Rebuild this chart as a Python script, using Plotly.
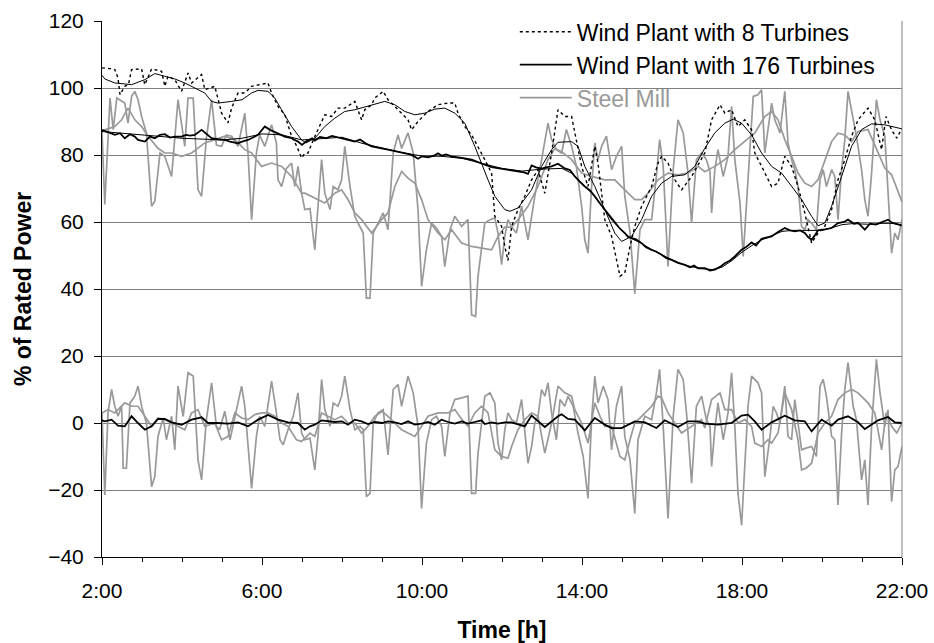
import plotly.graph_objects as go

# ---------------- data (hours of day, % of rated power) ----------------
# Wind plant with 8 turbines - measured (dotted)
t_w8 = [2.0, 2.07, 2.2, 2.32, 2.4, 2.45, 2.57, 2.66, 2.74, 2.99, 3.07, 3.24, 3.49, 3.57, 3.65, 3.82, 3.99, 4.15, 4.24, 4.49,
        4.57, 4.82, 4.9, 4.99, 5.15, 5.24, 5.4, 5.57, 5.74, 5.99, 6.15, 6.24, 6.4, 6.57, 6.74, 6.87, 6.99, 7.07, 7.15, 7.3,
        7.49, 7.57, 7.74, 7.9, 8.07, 8.32, 8.49, 8.57, 8.74, 8.82, 9.03, 9.15, 9.32, 9.49, 9.65, 9.74, 9.9, 10.15, 10.4, 10.65,
        10.82, 10.9, 11.07, 11.24, 11.4, 11.57, 11.74, 11.82, 11.99, 12.07, 12.15, 12.24, 12.4, 12.57, 12.74, 12.9, 13.07, 13.24, 13.4, 13.57,
        13.74, 13.82, 13.99, 14.15, 14.32, 14.4, 14.57, 14.74, 14.95, 15.07, 15.2, 15.32, 15.49, 15.74, 15.9, 15.99, 16.15, 16.32, 16.49, 16.74,
        16.99, 17.07, 17.24, 17.45, 17.57, 17.74, 17.9, 18.07, 18.24, 18.32, 18.49, 18.65, 18.74, 18.9, 19.07, 19.24, 19.4, 19.57, 19.74, 19.9,
        20.07, 20.24, 20.4, 20.57, 20.74, 20.9, 21.15, 21.32, 21.49, 21.6, 21.74, 21.87, 22.0]
v_w8 = [106, 106, 105.8, 105.5, 103, 98, 100.5, 101, 105.5, 105.7, 101, 105.7, 105, 100.5, 103.5, 102.5, 99, 104.5, 101.5, 104,
        99.5, 100.5, 97, 92.5, 89.6, 94, 98.5, 98.5, 100.5, 101, 101.5, 98.5, 94.5, 92, 85.6, 82.6, 79.1, 80.5, 80.6, 85,
        90, 92, 91.5, 94, 94, 96, 90.5, 93.5, 95, 97, 99, 96.5, 94.5, 92.5, 90.5, 87.5, 90, 93, 95, 95.5,
        95.5, 92.5, 88.5, 86, 82.6, 78.6, 74.6, 61.7, 58.7, 52.7, 48.5, 58.7, 63.7, 67.7, 72.6, 75.6, 68.6, 80.6, 93.5, 91.5,
        91.5, 86.6, 76.6, 70.6, 82.6, 77.6, 60.7, 55.7, 43.8, 44.8, 52.7, 58.7, 64.7, 70.6, 77.6, 79.6, 77.6, 72.6, 69.6, 73.6,
        78.6, 80.6, 90.5, 95, 92.5, 93.5, 88.5, 90.5, 87.5, 80.6, 76.6, 72.6, 70.6, 71.6, 79.6, 76.6, 70.6, 62.7, 53.7, 56.7,
        58.7, 63.7, 72.6, 78.6, 85.6, 90.5, 94, 90.5, 81.6, 91.5, 87.5, 85, 88]

# Wind plant with 8 turbines - smoothed
t_w8s = [2.0, 2.07, 2.32, 2.74, 3.07, 3.32, 3.57, 3.82, 4.07, 4.32, 4.57, 4.74, 4.9, 5.24, 5.5, 5.74, 5.9, 6.15, 6.32, 6.49,
         6.74, 6.99, 7.1, 7.32, 7.57, 7.82, 8.07, 8.32, 8.57, 8.82, 9.07, 9.32, 9.57, 9.82, 10.07, 10.32, 10.57, 10.82, 11.07, 11.32,
         11.48, 11.65, 11.82, 12.07, 12.2, 12.4, 12.74, 12.99, 13.24, 13.4, 13.74, 13.9, 14.07, 14.32, 14.57, 14.82, 14.99, 15.24, 15.49, 15.74,
         15.99, 16.24, 16.57, 16.82, 17.07, 17.32, 17.57, 17.78, 17.99, 18.24, 18.49, 18.74, 18.99, 19.24, 19.49, 19.74, 19.9, 20.07, 20.24, 20.49,
         20.74, 20.99, 21.24, 21.57, 21.82, 22.0]
v_w8s = [103.8, 102.7, 101.5, 101, 102.5, 104.3, 103.5, 102.7, 101.5, 100, 98.5, 96, 95.5, 96, 96.5, 98.5, 99.3, 99, 97, 93.5,
         88.5, 84.5, 83.6, 85, 88.5, 91, 93, 93.5, 94.3, 95.3, 96, 95, 93, 92, 92.5, 93.7, 94, 92.5, 89.5, 82.6,
         77.6, 72.6, 67.7, 63.7, 63.2, 64.2, 69.6, 76.6, 81.6, 83.8, 84, 82.6, 76.6, 70.6, 63.7, 56.7, 54.2, 55.7, 60.7, 67.7,
         71.6, 73.6, 74.1, 76.6, 82, 86.6, 89.5, 90.7, 89.5, 86, 80.6, 76.6, 74.6, 70.6, 66.7, 61.7, 58.9, 59.7, 64.7, 73.6,
         82.6, 87.6, 89.3, 89, 88.4, 87.8]

# Wind plant with 176 turbines - measured
t_w176 = [2.0, 2.1, 2.2, 2.32, 2.45, 2.57, 2.7, 2.82, 2.9, 3.07, 3.2, 3.32, 3.45, 3.57, 3.7, 3.82, 3.99, 4.1, 4.2, 4.32,
          4.49, 4.6, 4.74, 4.9, 5.07, 5.2, 5.4, 5.5, 5.65, 5.9, 6.07, 6.2, 6.4, 6.57, 6.74, 6.9, 7.0, 7.1, 7.25, 7.32,
          7.45, 7.6, 7.75, 7.9, 8.07, 8.2, 8.32, 8.45, 8.6, 8.74, 8.9, 9.05, 9.15, 9.3, 9.45, 9.57, 9.7, 9.82, 9.9, 10.0,
          10.15, 10.3, 10.4, 10.5, 10.6, 10.74, 10.9, 11.07, 11.24, 11.4, 11.57, 11.74, 11.9, 12.07, 12.2, 12.4, 12.55, 12.65, 12.74, 12.85,
          12.99, 13.1, 13.24, 13.4, 13.57, 13.7, 13.82, 13.95, 14.07, 14.2, 14.32, 14.45, 14.57, 14.7, 14.82, 14.95, 15.07, 15.15, 15.24, 15.35,
          15.49, 15.6, 15.74, 15.85, 15.99, 16.1, 16.24, 16.4, 16.57, 16.7, 16.8, 16.9, 17.07, 17.2, 17.32, 17.45, 17.57, 17.7, 17.82, 17.99,
          18.1, 18.24, 18.35, 18.49, 18.6, 18.74, 18.9, 19.07, 19.2, 19.32, 19.45, 19.57, 19.65, 19.74, 19.82, 19.9, 20.07, 20.24, 20.4, 20.55,
          20.65, 20.8, 20.9, 21.07, 21.2, 21.35, 21.5, 21.65, 21.75, 21.9, 22.0]
v_w176 = [87.5, 87, 86.5, 86, 86.5, 85, 86.2, 85.5, 84.5, 84, 85.5, 85, 86, 86.2, 85.2, 85.5, 85.5, 86, 85.8, 86,
          87.5, 86.3, 85, 84.7, 84.5, 84, 83.5, 84, 84.5, 86, 88.5, 87.5, 86.5, 85.5, 85, 84, 83, 84, 85, 84.3,
          85.4, 85, 85.7, 85.3, 84.8, 84.3, 84, 84.6, 83.4, 82.6, 82.3, 81.8, 81.6, 81.2, 80.8, 80.4, 80.2, 79.5, 78.9, 79.6,
          79.3, 79.8, 80.5, 79.8, 80.2, 79.6, 79.2, 79, 78.6, 77.8, 77.1, 76.4, 76.1, 75.6, 75.4, 75.2, 74.8, 74.4, 76.9, 76.3,
          75.9, 76.3, 76.6, 77.4, 76, 75.5, 73.6, 72, 70.6, 69.4, 67.7, 65.5, 63.7, 61.5, 59.7, 58, 56.7, 55.5, 55.2, 54.8,
          53.7, 52.5, 51.7, 51.2, 50.2, 49.3, 48.7, 47.8, 47.2, 46.5, 47, 46.2, 46.2, 45.5, 45.8, 46.6, 47.7, 48.5, 49.7, 51.7,
          52.5, 53.9, 53, 55, 55.3, 55.7, 57, 58.2, 57.5, 57.2, 57.5, 56.7, 55.5, 54.7, 56, 57.5, 57.8, 58.2, 59.7, 60,
          60.7, 59.5, 59.8, 57.7, 59.5, 59.2, 60, 60.7, 59.8, 59.2, 58.9]

# Wind plant with 176 turbines - smoothed
t_w176s = [2.0, 3.0, 4.0, 5.0, 5.5, 6.0, 6.5, 7.0, 7.5, 8.0, 8.5, 9.0, 9.5, 10.0, 10.5, 11.0, 11.5, 12.0, 12.5, 13.0,
           13.5, 13.75, 14.0, 14.25, 14.5, 14.75, 15.0, 15.25, 15.5, 15.75, 16.0, 16.25, 16.5, 16.75, 17.0, 17.25, 17.5, 17.75, 18.0, 18.25,
           18.5, 18.75, 19.0, 19.25, 19.5, 19.75, 20.0, 20.25, 20.5, 20.75, 21.0, 21.25, 21.5, 21.75, 22.0]
v_w176s = [87, 86, 85, 84.5, 85, 86.3, 86, 84.5, 85, 85.3, 83.5, 82, 80.7, 79.7, 79.6, 79, 77.5, 76, 75.2, 75.8,
           76, 74.5, 71.5, 68.5, 64.7, 60.5, 57.3, 55, 53.5, 51.7, 50.2, 48.7, 47.5, 46.6, 46.1, 45.8, 46.5, 48.5, 51, 53,
           54.7, 56, 57.2, 57.5, 57.5, 57.3, 57.5, 58.3, 59.2, 59.5, 59.3, 59.3, 59.6, 59.6, 59.2]

# Steel mill - measured
t_sm = [2.0, 2.07, 2.2, 2.28, 2.37, 2.57, 2.65, 2.74, 2.82, 2.9, 2.99, 3.11, 3.24, 3.32, 3.45, 3.57, 3.74, 3.9, 4.07, 4.15,
        4.28, 4.4, 4.49, 4.61, 4.74, 4.86, 4.99, 5.11, 5.24, 5.4, 5.57, 5.65, 5.74, 5.86, 5.94, 6.07, 6.24, 6.36, 6.4, 6.49,
        6.61, 6.74, 6.82, 6.9, 6.99, 7.07, 7.2, 7.32, 7.4, 7.49, 7.57, 7.7, 7.78, 7.9, 7.99, 8.07, 8.2, 8.32, 8.4, 8.53,
        8.61, 8.7, 8.78, 8.9, 9.03, 9.15, 9.28, 9.4, 9.49, 9.65, 9.78, 9.9, 9.99, 10.11, 10.24, 10.36, 10.49, 10.57, 10.7, 10.82,
        10.99, 11.15, 11.24, 11.34, 11.4, 11.57, 11.7, 11.82, 11.9, 11.99, 12.07, 12.15, 12.24, 12.36, 12.49, 12.65, 12.82, 12.99, 13.15, 13.24,
        13.36, 13.49, 13.61, 13.74, 13.86, 13.99, 14.07, 14.15, 14.24, 14.32, 14.4, 14.49, 14.61, 14.74, 14.86, 14.99, 15.07, 15.2, 15.32, 15.45,
        15.57, 15.74, 15.86, 15.94, 16.03, 16.15, 16.28, 16.4, 16.53, 16.65, 16.74, 16.86, 16.99, 17.11, 17.2, 17.24, 17.32, 17.4, 17.53, 17.65,
        17.74, 17.82, 17.95, 18.03, 18.12, 18.2, 18.28, 18.4, 18.49, 18.57, 18.65, 18.74, 18.82, 18.95, 19.07, 19.15, 19.24, 19.32, 19.4, 19.49,
        19.57, 19.65, 19.74, 19.86, 19.95, 20.03, 20.11, 20.24, 20.32, 20.4, 20.49, 20.57, 20.65, 20.78, 20.86, 20.99, 21.07, 21.15, 21.24, 21.36,
        21.45, 21.57, 21.65, 21.74, 21.82, 21.9, 22.0]
v_sm = [87, 65.2, 97, 87.6, 97, 95.5, 89.5, 97.5, 99, 96.5, 91.5, 86.6, 64.7, 66.2, 80.6, 79.6, 73.6, 96.5, 82.6, 97,
        97, 69.6, 67.7, 85, 96.5, 83, 82.6, 86, 85.6, 82.6, 92.5, 80.6, 60.7, 80.6, 86, 82.6, 89, 83.6, 72.6, 70.6,
        76, 77.6, 70.6, 76.6, 68.6, 63.7, 64, 51.7, 64.7, 78.6, 68.6, 63.7, 70.6, 69.6, 72.6, 82.6, 70.6, 61.7, 59.7, 56.7,
        37.3, 37.3, 56.7, 59.7, 62.7, 57.7, 80.6, 86, 82, 86.6, 80.6, 63.7, 40.8, 51.7, 59.7, 58.2, 55.7, 46.7, 57.7, 61.7,
        58.7, 60.7, 32.3, 31.8, 43.8, 59.7, 60.7, 61.2, 56.7, 47.3, 55.7, 60.7, 58.5, 56.7, 64.7, 54.7, 67.7, 78.6, 89.5, 84.6,
        81.6, 80.6, 87.6, 82.6, 76.6, 64.7, 54.7, 50.7, 70.6, 83.6, 78.6, 82.6, 85.6, 75.6, 79.6, 82.6, 67.7, 57, 38.6, 57.7,
        60.7, 60.7, 73.6, 84.6, 76.6, 46.7, 75.6, 90.5, 86.6, 74.6, 59.7, 78.6, 80.6, 78.6, 75, 62.7, 75.6, 81.6, 73.6, 79.6,
        94.5, 78.6, 65.7, 49.7, 66.7, 82.6, 97.5, 98, 99.5, 80.6, 87.5, 95.5, 90.5, 86.6, 99, 83.6, 78.6, 75.6, 70.6, 58.7,
        57.7, 60.7, 59.7, 57.7, 72.6, 75.6, 70.6, 75.6, 73.6, 60.7, 75.6, 84.6, 99, 90.5, 85.6, 75.6, 66.7, 61.7, 74.6, 96.5,
        90.5, 85.6, 69.6, 50.7, 56.7, 54.7, 60.7]

# Steel mill - smoothed
t_sms = [2.0, 2.07, 2.32, 2.49, 2.65, 2.82, 2.99, 3.15, 3.4, 3.57, 3.74, 3.99, 4.24, 4.57, 4.82, 5.07, 5.32, 5.57, 5.74, 5.99,
         6.24, 6.49, 6.74, 6.99, 7.07, 7.32, 7.57, 7.82, 7.99, 8.15, 8.32, 8.49, 8.74, 8.99, 9.15, 9.32, 9.49, 9.65, 9.82, 9.99,
         10.15, 10.4, 10.57, 10.74, 10.99, 11.24, 11.49, 11.74, 11.9, 12.07, 12.24, 12.4, 12.65, 12.9, 13.15, 13.32, 13.49, 13.74, 13.99, 14.24,
         14.57, 14.82, 15.07, 15.32, 15.49, 15.65, 15.9, 16.15, 16.4, 16.65, 16.9, 17.07, 17.32, 17.57, 17.82, 18.07, 18.32, 18.57, 18.74, 18.9,
         19.07, 19.24, 19.4, 19.57, 19.74, 19.9, 20.07, 20.24, 20.4, 20.57, 20.74, 20.9, 21.15, 21.4, 21.57, 21.74, 21.9, 22.0]
v_sms = [87, 87.5, 88.5, 90.5, 94, 90.5, 88.5, 85.6, 82, 80.6, 80.6, 79.6, 80.6, 83.6, 84.6, 85.6, 84.6, 81.6, 80.6, 76.6,
         77.6, 76.6, 73.6, 68.6, 68.6, 67.2, 65.7, 68.6, 69.6, 66.7, 62.7, 60.7, 56.7, 60.7, 62.7, 70.6, 75.1, 73.1, 71.6, 66.7,
         60.7, 56.7, 54.7, 57.7, 53.7, 52.7, 52.2, 51.7, 55.7, 58.5, 58.5, 60.7, 64.7, 70.6, 78.6, 82, 81, 78.6, 74.6, 73.6,
         72.6, 72.6, 69.6, 66.7, 66.7, 68.6, 72.6, 74.6, 74.1, 74.6, 76.6, 75, 76.6, 78.6, 81.6, 84.1, 86.6, 91.5, 93, 90.5,
         84.6, 79.6, 74.6, 71.6, 70.6, 72.6, 78, 84, 86.5, 86, 84, 87, 87.6, 81, 76.1, 74.1, 69, 66]

# Fluctuations (measured minus smoothed)
t_fw176 = [2.0, 2.07, 2.24, 2.4, 2.57, 2.74, 2.9, 3.07, 3.24, 3.4, 3.57, 3.74, 3.99, 4.24, 4.49, 4.65, 4.9, 5.15, 5.4, 5.65,
           5.9, 6.15, 6.4, 6.65, 6.9, 7.07, 7.2, 7.32, 7.49, 7.65, 7.82, 8.0, 8.15, 8.32, 8.49, 8.65, 8.82, 9.0, 9.15, 9.32,
           9.49, 9.65, 9.82, 9.99, 10.15, 10.32, 10.49, 10.65, 10.82, 10.99, 11.15, 11.32, 11.49, 11.57, 11.74, 11.9, 12.07, 12.24, 12.57, 12.74,
           13.07, 13.4, 13.49, 13.65, 13.82, 14.07, 14.32, 14.57, 14.74, 14.99, 15.32, 15.57, 15.86, 16.07, 16.4, 16.65, 16.9, 17.07, 17.4, 17.74,
           17.99, 18.15, 18.32, 18.49, 18.74, 19.07, 19.32, 19.57, 19.74, 19.99, 20.24, 20.4, 20.65, 20.9, 21.07, 21.4, 21.65, 21.82, 22.0]
v_fw176 = [0.8, 0.5, 1, -0.8, -1, 2, 0, -2, -1, 1.2, 1.2, 0.2, -0.5, 1, 1.7, 0, 0, -0.2, 0.2, -1,
           1, 2.4, 1, 0.2, 0, -2, -1, -0.5, 0.8, 0.5, 0.3, 0.5, -0.5, 1, 0.5, -0.3, 0.3, 0, 0.5, 0.2,
           -0.3, 0.5, -0.5, -0.2, 0.3, -0.5, 1, 0.3, -0.2, 0.5, -0.2, 0.3, 0.8, -0.3, 0.2, -0.2, 0.2, 0.2, -1, 2.2,
           -1.2, 2, 2.6, 1.2, 1, -2.2, 1.5, -0.5, -1.5, -1.5, 0.5, 0.2, -1.5, 0.8, -1.2, 0.5, 0.5, -0.2, -0.5, 0,
           2.2, 2.5, 0.5, -2, 0.2, 2.2, 0.8, 0.5, -2.5, 1, -0.8, 1, 2, 0.2, -1.8, 0.8, 1.8, 0.2, 0]

t_fw8 = [2.0, 2.15, 2.32, 2.57, 2.74, 2.9, 3.07, 3.24, 3.4, 3.57, 3.74, 3.9, 4.07, 4.24, 4.4, 4.57, 4.82, 4.99, 5.15, 5.32,
         5.49, 5.65, 5.82, 5.99, 6.15, 6.32, 6.49, 6.65, 6.86, 6.99, 7.2, 7.32, 7.49, 7.65, 7.82, 7.99, 8.15, 8.32, 8.49, 8.65,
         8.82, 9.0, 9.15, 9.32, 9.49, 9.65, 9.82, 9.99, 10.15, 10.4, 10.65, 10.82, 11.0, 11.15, 11.32, 11.49, 11.65, 11.82, 11.99, 12.15,
         12.24, 12.4, 12.57, 12.74, 12.9, 13.07, 13.24, 13.4, 13.57, 13.74, 13.82, 13.99, 14.15, 14.32, 14.45, 14.57, 14.74, 14.95, 15.07, 15.2,
         15.32, 15.49, 15.74, 15.9, 15.99, 16.15, 16.32, 16.49, 16.74, 16.99, 17.07, 17.24, 17.45, 17.57, 17.74, 17.9, 18.07, 18.24, 18.32, 18.49,
         18.65, 18.74, 18.9, 19.07, 19.24, 19.4, 19.49, 19.6, 19.74, 19.9, 20.07, 20.24, 20.4, 20.57, 20.74, 20.9, 21.15, 21.32, 21.49, 21.6,
         21.74, 21.87, 22.0]
v_fw8 = [3, 4, 3, 6, 5, 5, 2, -1, 1.5, 1, 0, -1, -2, 3, 4, -1, 0, -5, -4, 3,
         1.5, 1, 2.5, 3, 3, 2, 0, -1, -5, -5.5, -3, -4, 3, 2, 1, 2, 0, 0, -3, -1,
         2, 3.5, 2, 0, -2, -3, -4, -1, 2, 3, 3, 4, 1, -1, 3, 5, 3, -8, -10, -10.5,
         -7, -2, 1, 3, 2, -9, 0, 11, 9, 8, 4, 0, -6, 6, 2, -1, -1, -10, -11, -5,
         0, 2, 5, 8, 7.5, 3, 0, -3, -1, 1, -1.5, 7, 9, 4, 4, 0, 1, -1, -6, -7,
         -5, -6, -3, 9, 4, -5, -14, -13.5, -12, -3, 0, 2, 7, 9, 10, 9, 6, 3, -8, 3,
         -1, -3, 0]

t_fsm = [2.0, 2.07, 2.15, 2.24, 2.32, 2.4, 2.49, 2.53, 2.61, 2.7, 2.82, 2.9, 2.99, 3.11, 3.24, 3.32, 3.4, 3.53, 3.61, 3.74,
         3.82, 3.9, 4.03, 4.15, 4.28, 4.4, 4.49, 4.61, 4.74, 4.86, 4.94, 5.07, 5.2, 5.32, 5.49, 5.57, 5.74, 5.86, 5.94, 6.07,
         6.24, 6.36, 6.45, 6.53, 6.65, 6.78, 6.9, 6.99, 7.07, 7.2, 7.32, 7.4, 7.49, 7.57, 7.7, 7.78, 7.9, 7.99, 8.07, 8.2,
         8.32, 8.45, 8.53, 8.61, 8.7, 8.78, 8.9, 9.03, 9.15, 9.28, 9.4, 9.49, 9.65, 9.78, 9.9, 9.99, 10.11, 10.24, 10.36, 10.49,
         10.57, 10.7, 10.82, 10.99, 11.15, 11.24, 11.34, 11.4, 11.57, 11.7, 11.82, 11.9, 11.99, 12.07, 12.15, 12.24, 12.36, 12.49, 12.65, 12.74,
         12.82, 12.9, 12.99, 13.07, 13.15, 13.24, 13.36, 13.45, 13.57, 13.65, 13.78, 13.9, 14.03, 14.15, 14.24, 14.32, 14.4, 14.53, 14.65, 14.74,
         14.86, 14.99, 15.07, 15.2, 15.32, 15.4, 15.57, 15.74, 15.86, 15.94, 16.03, 16.15, 16.28, 16.4, 16.53, 16.62, 16.74, 16.86, 16.99, 17.11,
         17.2, 17.24, 17.32, 17.4, 17.53, 17.65, 17.74, 17.82, 17.9, 17.99, 18.07, 18.15, 18.24, 18.4, 18.49, 18.57, 18.7, 18.78, 18.86, 18.95,
         19.07, 19.15, 19.24, 19.32, 19.4, 19.49, 19.6, 19.74, 19.86, 19.95, 20.03, 20.11, 20.24, 20.32, 20.4, 20.49, 20.57, 20.65, 20.78, 20.86,
         20.99, 21.07, 21.15, 21.24, 21.36, 21.45, 21.57, 21.65, 21.74, 21.82, 21.9, 22.0]
v_fsm = [3, -21.5, 3, 10, 5, 2, 5, -13.5, -13.5, 6, 8, 11, 5, 0, -19, -16, -4, 1.5, -5, 2,
         -8, 11, 2, 15, 14, -11, -17, 1, 12, -1, -2, 3.5, -5, 2, 11, 5, -19.5, -4, 2, -1,
         12.5, 3, -5, -6.5, -2, 2, 9, -3, -5, -4.5, -14, -4, 13, 4, -1, 6, 5, 8, 14, 4,
         -2, -1, -2, -22, -21, 0, 3, 4, -9.5, 10, 11.5, 5, 14, 9, -1, -25.5, -6, 1, 2, -1,
         -10, 3, 7, 7.5, 8, -21, -21, -9, 8, 9, 6, -6, -11, -2, 3, 1, 0, 7, -12, -7,
         0, 2, 10, 8, 12, 3, -5, 7, 5, 8, 5, -3, -10, -22.5, 1, 14, 6, 11, 7, -8,
         5, 11, -4, -11, -27, -5, 2, 1, 9, 16, -1, -28.5, 2, 16, 13, 2, -18, 5, 8, 1,
         -1, -13, -2, 6, -5, 3, 15, -1, -21, -30.5, -11, 5, 14, 12, 9, -16, -4, 5, 3, 0,
         11, -4, -5, 7, 0, -8, -7.5, -7, -10, 11, 13, 8, -4, -5, -24.5, -3, 10, 18, 5, 1,
         -17, -11, -24.5, -1, 19, 9, -1, 4, -23.5, -14, -13, -7]

legend_names = ["Wind Plant with 8 Turbines", "Wind Plant with 176 Turbines", "Steel Mill"]
x_tickvals = [2, 6, 10, 14, 18, 22]
x_ticktext = ["2:00", "6:00", "10:00", "14:00", "18:00", "22:00"]

# ---------------- figure ----------------
BLACK = "#000000"
GRAY = "#999999"
FONT = "Liberation Sans, Arial, sans-serif"

fig = go.Figure()

# steel mill (gray)
fig.add_trace(go.Scatter(x=t_fsm, y=v_fsm, mode="lines", line=dict(color=GRAY, width=1.7), showlegend=False))
fig.add_trace(go.Scatter(x=t_fw8, y=v_fw8, mode="lines", line=dict(color=GRAY, width=1.7), showlegend=False))
fig.add_trace(go.Scatter(x=t_sms, y=v_sms, mode="lines", line=dict(color=GRAY, width=1.7), showlegend=False))
fig.add_trace(go.Scatter(x=t_sm, y=v_sm, mode="lines", line=dict(color=GRAY, width=1.7),
                         name='<span style="color:%s">%s</span>' % (GRAY, legend_names[2])))
# 176 turbines
fig.add_trace(go.Scatter(x=t_w176s, y=v_w176s, mode="lines", line=dict(color=BLACK, width=1), showlegend=False))
fig.add_trace(go.Scatter(x=t_w176, y=v_w176, mode="lines", line=dict(color=BLACK, width=1.8), name=legend_names[1]))
fig.add_trace(go.Scatter(x=t_fw176, y=v_fw176, mode="lines", line=dict(color=BLACK, width=1.8), showlegend=False))
# 8 turbines
fig.add_trace(go.Scatter(x=t_w8s, y=v_w8s, mode="lines", line=dict(color=BLACK, width=1), showlegend=False))
fig.add_trace(go.Scatter(x=t_w8, y=v_w8, mode="lines", line=dict(color=BLACK, width=1.4, dash="dot"), name=legend_names[0]))

fig.update_layout(
    width=934, height=643,
    margin=dict(l=102, r=32, t=21, b=86, autoexpand=False),
    paper_bgcolor="white", plot_bgcolor="white",
    font=dict(family=FONT, size=21, color="black"),
    legend=dict(x=0.516, xanchor="left", y=0.984, yref="container", yanchor="top",
                bgcolor="rgba(0,0,0,0)", traceorder="reversed", font=dict(size=23),
                itemwidth=52, tracegroupgap=0),
    showlegend=True,
)
fig.update_xaxes(
    range=[2, 22], tickvals=x_tickvals, ticktext=x_ticktext,
    ticks="outside", ticklen=7, tickcolor=BLACK, tickwidth=1, ticklabelstandoff=8,
    minor=dict(dtick=1, tick0=2, ticks="outside", ticklen=4, tickcolor=BLACK, showgrid=False),
    showgrid=False, zeroline=False, showline=True, linecolor=BLACK, linewidth=1,
    tickfont=dict(size=21), automargin=False,
    title=dict(text="<b>Time [h]</b>", font=dict(size=23), standoff=21),
)
fig.update_yaxes(
    range=[-40, 120], dtick=20, tick0=0,
    ticks="outside", ticklen=7, tickcolor=BLACK, tickwidth=1, ticklabelstandoff=6,
    showgrid=True, gridcolor="#808080", gridwidth=1,
    zeroline=True, zerolinecolor="#808080", zerolinewidth=1,
    showline=True, linecolor=BLACK, linewidth=1,
    tickfont=dict(size=21), automargin=False,
    title=dict(text="<b>% of Rated Power</b>", font=dict(size=23), standoff=10),
)
# right border of plot area
fig.add_shape(type="line", xref="paper", yref="paper", x0=1, x1=1, y0=0, y1=1,
              line=dict(color="#808080", width=1))

fig.write_html("out.html")
